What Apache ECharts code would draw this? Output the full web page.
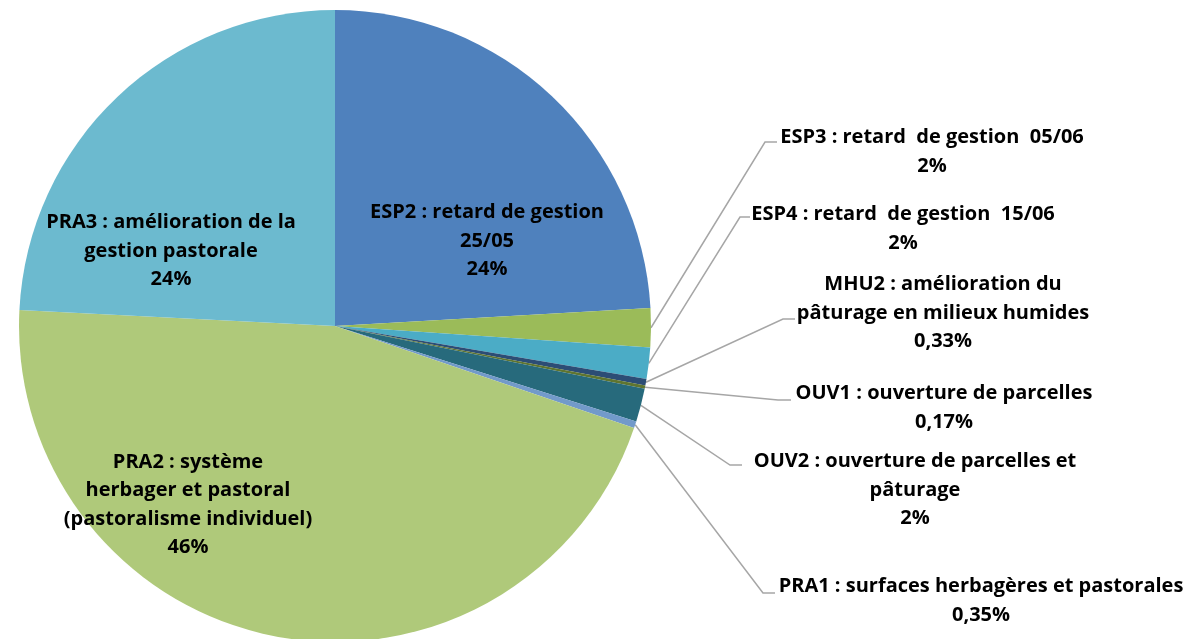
<!DOCTYPE html>
<html>
<head>
<meta charset="utf-8">
<script src="https://cdn.jsdelivr.net/npm/echarts@6/dist/echarts.min.js"></script>
<style>html,body{margin:0;padding:0;background:#fff}#c{width:1189px;height:639px}</style>
</head>
<body>
<div id="c"></div>
<script>
const categories = [
  'ESP2 : retard de gestion\n25/05',
  'ESP3 : retard  de gestion  05/06',
  'ESP4 : retard  de gestion  15/06',
  'MHU2 : amélioration du\npâturage en milieux humides',
  'OUV1 : ouverture de parcelles',
  'OUV2 : ouverture de parcelles et\npâturage',
  'PRA1 : surfaces herbagères et pastorales',
  'PRA2 : système\nherbager et pastoral\n(pastoralisme individuel)',
  'PRA3 : amélioration de la\ngestion pastorale'
];
const values = [24.1, 2.0, 1.6, 0.33, 0.17, 1.7, 0.35, 45.6, 24.2];
const pctLabels = ['24%', '2%', '2%', '0,33%', '0,17%', '2%', '0,35%', '46%', '24%'];
const colors = ['#4F81BD', '#9BBB59', '#4BACC6', '#2C4D75', '#5F7530', '#276A7C', '#729ACA', '#AFC97A', '#6CBACF'];

// label layout (position of text centre, elbow and end of the leader line)
const layout = [
  {x: 487, y: 241},
  {x: 932, y: 152, elbow: [765, 142], end: [777, 142]},
  {x: 903, y: 229, elbow: [740, 217], end: [750, 217]},
  {x: 943, y: 313, elbow: [783, 319], end: [795, 319]},
  {x: 944, y: 408, elbow: [778, 400], end: [791, 400]},
  {x: 915, y: 490, elbow: [730, 465], end: [742, 465]},
  {x: 981, y: 601, elbow: [763, 593], end: [775, 593]},
  {x: 188, y: 505},
  {x: 171, y: 251}
];
const inside = [0, 7, 8];

const chart = echarts.init(document.getElementById('c'), null, {renderer: 'canvas'});
const data = categories.map((n, i) => ({
  name: n,
  value: values[i],
  itemStyle: {color: colors[i]},
  labelLine: {show: inside.indexOf(i) < 0}
}));
chart.setOption({
  backgroundColor: '#ffffff',
  animation: false,
  series: [{
    type: 'pie',
    center: [335, 326],
    radius: 316,
    startAngle: 90,
    clockwise: true,
    data: data,
    itemStyle: {borderWidth: 0},
    label: {
      show: true,
      position: 'outside',
      formatter: p => p.name + '\n' + pctLabels[p.dataIndex],
      fontFamily: 'Open Sans',
      fontWeight: 'bold',
      fontSize: 20,
      lineHeight: 28.5,
      color: '#000',
      align: 'center',
      overflow: 'none'
    },
    labelLine: {
      show: true,
      length: 20,
      length2: 10,
      lineStyle: {color: '#A6A6A6', width: 1.5}
    },
    labelLayout: function (params) {
      const i = params.dataIndex;
      const L = layout[i];
      const r = {x: L.x, y: L.y, align: 'center', verticalAlign: 'middle', hideOverlap: false, moveOverlap: null};
      if (L.elbow && params.labelLinePoints) {
        const pts = params.labelLinePoints;
        r.labelLinePoints = [pts[0], L.elbow, L.end];
      }
      return r;
    }
  }]
});
</script>
</body>
</html>
